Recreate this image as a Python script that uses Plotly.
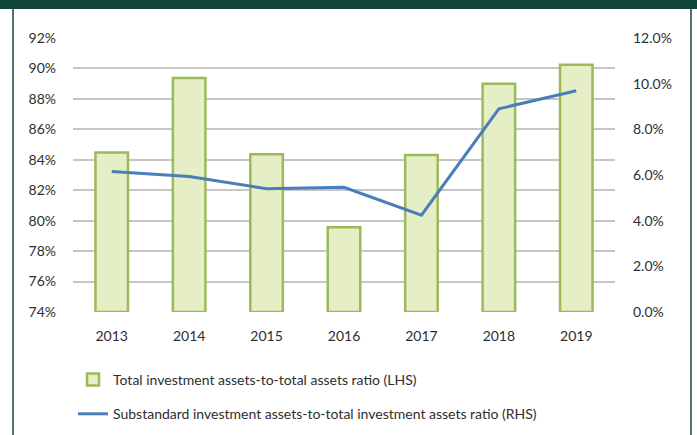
import plotly.graph_objects as go

years = ["2013", "2014", "2015", "2016", "2017", "2018", "2019"]
total_inv_ratio = [84.47, 89.37, 84.37, 79.57, 84.32, 89.0, 90.24]
substandard_ratio = [6.15, 5.93, 5.40, 5.46, 4.24, 8.9, 9.69]

bar_name = "Total investment assets-to-total assets ratio (LHS)"
line_name = "Substandard investment assets-to-total investment assets ratio (RHS)"

FONT = "Lato"
TXT = "#2e2e2e"
DARK = "#13463a"
LHS_MIN = 74

fig = go.Figure()
fig.add_trace(go.Bar(
    x=years, y=[v - LHS_MIN for v in total_inv_ratio], base=LHS_MIN,
    customdata=total_inv_ratio, hovertemplate="%{customdata}%",
    name=bar_name,
    marker=dict(color="#e6eec6", line=dict(color="#9bbb59", width=2.5)),
    width=0.42, yaxis="y", legendgroup="a",
))
fig.add_trace(go.Scatter(
    x=years, y=substandard_ratio, name=line_name, mode="lines",
    line=dict(color="#4a7ebb", width=3), yaxis="y2", legendgroup="b",
))

W, H = 697, 435
PW, PH = 542, 274
fig.update_layout(
    width=W, height=H,
    margin=dict(l=73, r=82, t=38, b=123, autoexpand=False),
    paper_bgcolor="white", plot_bgcolor="white",
    font=dict(family=FONT, size=14, color=TXT),
    showlegend=True,
    legend=dict(xref="container", yref="container",
                x=73 / W, y=1 - 364 / H, xanchor="left", yanchor="top",
                orientation="v", font=dict(size=14, color=TXT),
                tracegroupgap=13, itemwidth=30, bgcolor="rgba(0,0,0,0)"),
    xaxis=dict(type="category", showgrid=False, zeroline=False, showline=False,
               ticks="", ticklabelstandoff=14, tickfont=dict(size=14, color=TXT)),
    yaxis=dict(range=[74, 92], dtick=2, ticksuffix="%", showgrid=True,
               gridcolor="#c6c6c6", gridwidth=1.5, zeroline=False, showline=False,
               ticks="", ticklabelstandoff=16, tickfont=dict(size=14, color=TXT)),
    yaxis2=dict(range=[0, 12], dtick=2, tickformat=".1f", ticksuffix="%",
                overlaying="y", side="right", showgrid=False, zeroline=False,
                showline=False, ticks="", ticklabelstandoff=17,
                tickfont=dict(size=14, color=TXT)),
    shapes=[
        dict(type="rect", xref="paper", yref="paper", x0=-73/PW, x1=(697-73)/PW,
             y0=1 + 29/PH, y1=1 + 38/PH, line=dict(width=0), fillcolor=DARK, layer="above"),
        dict(type="line", xref="paper", yref="paper", x0=-60/PW, x1=-60/PW,
             y0=-123/PH, y1=1 + 29/PH, line=dict(color=DARK, width=1.5)),
        dict(type="line", xref="paper", yref="paper", x0=(691-73)/PW, x1=(691-73)/PW,
             y0=-123/PH, y1=1 + 29/PH, line=dict(color=DARK, width=1.5)),
    ],
)

fig.write_html("out.html", config={"displayModeBar": False},
               post_script="document.body.style.margin='0';")
